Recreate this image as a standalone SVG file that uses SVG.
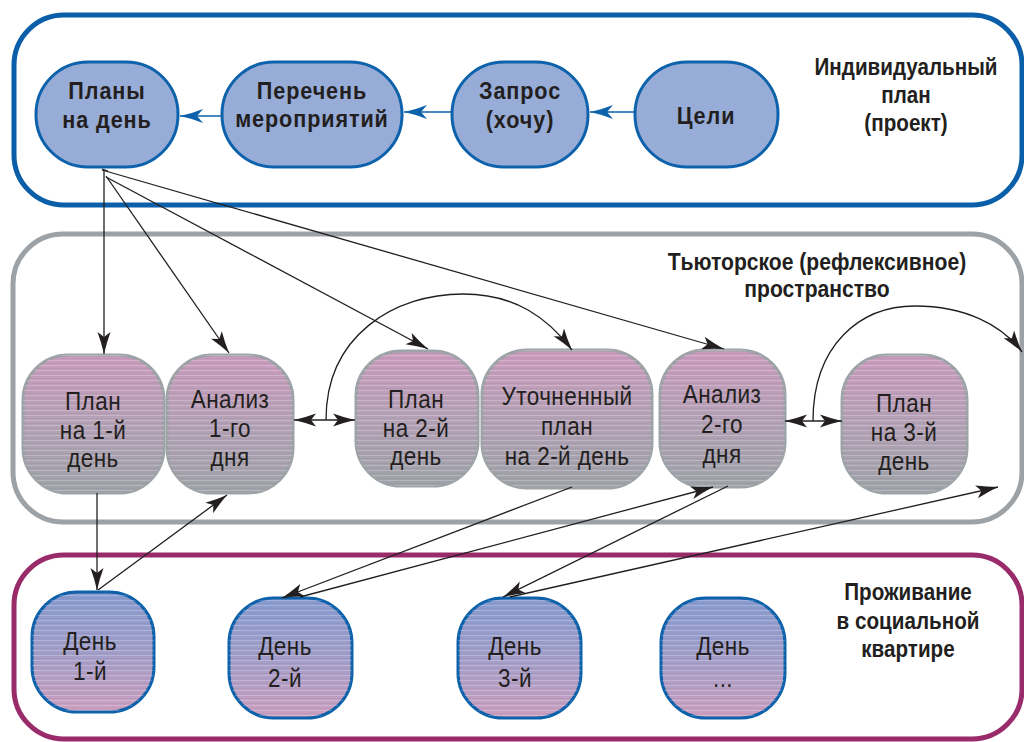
<svg xmlns="http://www.w3.org/2000/svg" width="1024" height="742" viewBox="0 0 1024 742">
<style>
.t{font-family:"Liberation Sans Narrow","Liberation Sans",Arial,sans-serif;fill:#231f20;text-anchor:middle}
.b{font-weight:bold;font-size:24px;letter-spacing:1px}
.lbl{font-weight:bold;font-size:24px}
.r{font-size:25px;letter-spacing:0.5px}
.topn{fill:#97acd7;stroke:#0e62ab;stroke-width:3}
.midn{fill:url(#gMid);stroke:#9ea3a8;stroke-width:3}
.botn{fill:url(#gBot);stroke:#0e62ab;stroke-width:3}
.str{fill:url(#stripes);stroke:none}
.c{fill:none;stroke:#231f20;stroke-width:1.3}
.cb{fill:none;stroke:#0e62ab;stroke-width:1.6}
</style>
<defs>
<linearGradient id="gMid" x1="0" y1="0" x2="0" y2="1">
<stop offset="0" stop-color="#cb9bbd"/>
<stop offset="0.5" stop-color="#b4a1b6"/>
<stop offset="1" stop-color="#9fa3a9"/>
</linearGradient>
<linearGradient id="gBot" x1="0" y1="0" x2="0" y2="1">
<stop offset="0" stop-color="#889bcf"/>
<stop offset="0.5" stop-color="#a29ec9"/>
<stop offset="1" stop-color="#cc9fc0"/>
</linearGradient>
<pattern id="stripes" patternUnits="userSpaceOnUse" width="8" height="5">
<rect x="0" y="0" width="8" height="1" fill="#ffffff" fill-opacity="0.22"/>
<rect x="0" y="3" width="8" height="1" fill="#000000" fill-opacity="0.04"/>
</pattern>
<marker id="ah" markerUnits="userSpaceOnUse" markerWidth="26" markerHeight="16" refX="22" refY="8" orient="auto-start-reverse">
<path d="M0,1.5 Q11,5.5 22,8 Q11,10.5 0,14.5 L5,8 Z" fill="#231f20"/>
</marker>
<marker id="ahb" markerUnits="userSpaceOnUse" markerWidth="26" markerHeight="16" refX="23" refY="8" orient="auto">
<path d="M0,1 Q11,5.5 23,8 Q11,10.5 0,15 L6,8 Z" fill="#0e62ab"/>
</marker>
</defs>
<rect width="1024" height="742" fill="#ffffff"/>

<g id="container-plan">
<rect x="14" y="15" width="1008" height="190" rx="50" fill="none" stroke="#0b5fa9" stroke-width="5"/>
<g transform="translate(906,0) scale(0.86,1)">
<text class="t lbl" x="0" y="75">Индивидуальный</text>
<text class="t lbl" x="0" y="103">план</text>
<text class="t lbl" x="0" y="131">(проект)</text>
</g>
</g>
<g id="container-tutor">
<rect x="13" y="234" width="1009" height="288" rx="50" fill="none" stroke="#9da2a7" stroke-width="5"/>
<g transform="translate(817,0) scale(0.88,1)">
<text class="t lbl" x="0" y="270">Тьюторское (рефлексивное)</text>
<text class="t lbl" x="0" y="297">пространство</text>
</g>
</g>
<g id="container-life">
<rect x="14" y="555" width="1008" height="184" rx="50" fill="none" stroke="#9a2b6b" stroke-width="5"/>
<g transform="translate(908,0) scale(0.86,1)">
<text class="t lbl" x="0" y="600">Проживание</text>
<text class="t lbl" x="0" y="629">в социальной</text>
<text class="t lbl" x="0" y="657">квартире</text>
</g>
</g>

<g id="n-plans">
<rect class="topn" x="36" y="62" width="142" height="105" rx="52"/>
<g transform="translate(107,0) scale(0.9,1)">
<text class="t b" x="0" y="99">Планы</text>
<text class="t b" x="0" y="128">на день</text>
</g>
</g>
<g id="n-list">
<rect class="topn" x="222" y="62" width="180" height="105" rx="52"/>
<g transform="translate(312,0) scale(0.9,1)">
<text class="t b" x="0" y="99">Перечень</text>
<text class="t b" x="0" y="127">мероприятий</text>
</g>
</g>
<g id="n-request">
<rect class="topn" x="452" y="62" width="136" height="105" rx="52"/>
<g transform="translate(520,0) scale(0.9,1)">
<text class="t b" x="0" y="99">Запрос</text>
<text class="t b" x="0" y="128">(хочу)</text>
</g>
</g>
<g id="n-goals">
<rect class="topn" x="635" y="62" width="143" height="105" rx="52"/>
<g transform="translate(706,0) scale(0.9,1)">
<text class="t b" x="0" y="124">Цели</text>
</g>
</g>

<g id="n-plan1">
<rect class="midn" x="23" y="355" width="141" height="138" rx="45"/>
<rect class="str" x="23" y="355" width="141" height="138" rx="45"/>
<g transform="translate(93,0) scale(0.9,1)">
<text class="t r" x="0" y="410">План</text>
<text class="t r" x="0" y="439">на 1-й</text>
<text class="t r" x="0" y="467">день</text>
</g>
</g>
<g id="n-an1">
<rect class="midn" x="167" y="355" width="126" height="138" rx="45"/>
<rect class="str" x="167" y="355" width="126" height="138" rx="45"/>
<g transform="translate(230,0) scale(0.9,1)">
<text class="t r" x="0" y="408">Анализ</text>
<text class="t r" x="0" y="437">1-го</text>
<text class="t r" x="0" y="466">дня</text>
</g>
</g>
<g id="n-plan2">
<rect class="midn" x="356" y="351" width="122" height="135" rx="45"/>
<rect class="str" x="356" y="351" width="122" height="135" rx="45"/>
<g transform="translate(416,0) scale(0.9,1)">
<text class="t r" x="0" y="408">План</text>
<text class="t r" x="0" y="437">на 2-й</text>
<text class="t r" x="0" y="465">день</text>
</g>
</g>
<g id="n-refined">
<rect class="midn" x="482" y="350" width="170" height="138" rx="45"/>
<rect class="str" x="482" y="350" width="170" height="138" rx="45"/>
<g transform="translate(567,0) scale(0.9,1)">
<text class="t r" x="0" y="405">Уточненный</text>
<text class="t r" x="0" y="435">план</text>
<text class="t r" x="0" y="465">на 2-й день</text>
</g>
</g>
<g id="n-an2">
<rect class="midn" x="660" y="350" width="125" height="137" rx="45"/>
<rect class="str" x="660" y="350" width="125" height="137" rx="45"/>
<g transform="translate(722,0) scale(0.9,1)">
<text class="t r" x="0" y="403">Анализ</text>
<text class="t r" x="0" y="433">2-го</text>
<text class="t r" x="0" y="463">дня</text>
</g>
</g>
<g id="n-plan3">
<rect class="midn" x="842" y="355" width="125" height="138" rx="45"/>
<rect class="str" x="842" y="355" width="125" height="138" rx="45"/>
<g transform="translate(904,0) scale(0.9,1)">
<text class="t r" x="0" y="412">План</text>
<text class="t r" x="0" y="441">на 3-й</text>
<text class="t r" x="0" y="470">день</text>
</g>
</g>

<g id="n-day1">
<rect class="botn" x="32" y="592" width="122" height="120" rx="45"/>
<rect class="str" x="32" y="592" width="122" height="120" rx="45"/>
<g transform="translate(90,0) scale(0.9,1)">
<text class="t r" x="0" y="650">День</text>
<text class="t r" x="0" y="680">1-й</text>
</g>
</g>
<g id="n-day2">
<rect class="botn" x="229" y="598" width="123" height="120" rx="45"/>
<rect class="str" x="229" y="598" width="123" height="120" rx="45"/>
<g transform="translate(285,0) scale(0.9,1)">
<text class="t r" x="0" y="655">День</text>
<text class="t r" x="0" y="687">2-й</text>
</g>
</g>
<g id="n-day3">
<rect class="botn" x="458" y="598" width="123" height="120" rx="45"/>
<rect class="str" x="458" y="598" width="123" height="120" rx="45"/>
<g transform="translate(515,0) scale(0.9,1)">
<text class="t r" x="0" y="655">День</text>
<text class="t r" x="0" y="687">3-й</text>
</g>
</g>
<g id="n-dayn">
<rect class="botn" x="661" y="598" width="124" height="120" rx="45"/>
<rect class="str" x="661" y="598" width="124" height="120" rx="45"/>
<g transform="translate(723,0) scale(0.9,1)">
<text class="t r" x="0" y="655">День</text>
<text class="t r" x="0" y="687">...</text>
</g>
</g>

<g id="connectors">
<path class="cb" d="M635,112 H590" marker-end="url(#ahb)"/>
<path class="cb" d="M452,112 H404" marker-end="url(#ahb)"/>
<path class="cb" d="M222,116 H180" marker-end="url(#ahb)"/>

<path class="c" d="M102,169 L108,171"/>
<path class="c" d="M104,170 V354" marker-end="url(#ah)"/>
<path class="c" d="M106,176 L229,353" marker-end="url(#ah)"/>
<path class="c" d="M106,177 L428,349" marker-end="url(#ah)"/>
<path class="c" d="M102,170 L724,349" marker-end="url(#ah)"/>

<path class="c" d="M294,420 H355" marker-start="url(#ah)" marker-end="url(#ah)"/>
<path class="c" d="M326,420 C326,335 395,294 463,294 C515,294 548,318 572,350" marker-end="url(#ah)"/>
<path class="c" d="M785,421 H842" marker-start="url(#ah)" marker-end="url(#ah)"/>
<path class="c" d="M813,421 C813,345 860,306 915,306 C965,306 1002,325 1022,352" marker-end="url(#ah)"/>

<path class="c" d="M97,493 V590" marker-end="url(#ah)"/>
<path class="c" d="M98,590 L227,495" marker-end="url(#ah)"/>
<path class="c" d="M572,487 L282,598" marker-end="url(#ah)"/>
<path class="c" d="M300,597 L713,487" marker-end="url(#ah)"/>
<path class="c" d="M728,486 L503,597" marker-end="url(#ah)"/>
<path class="c" d="M510,597 L998,487" marker-end="url(#ah)"/>
</g>
</svg>
